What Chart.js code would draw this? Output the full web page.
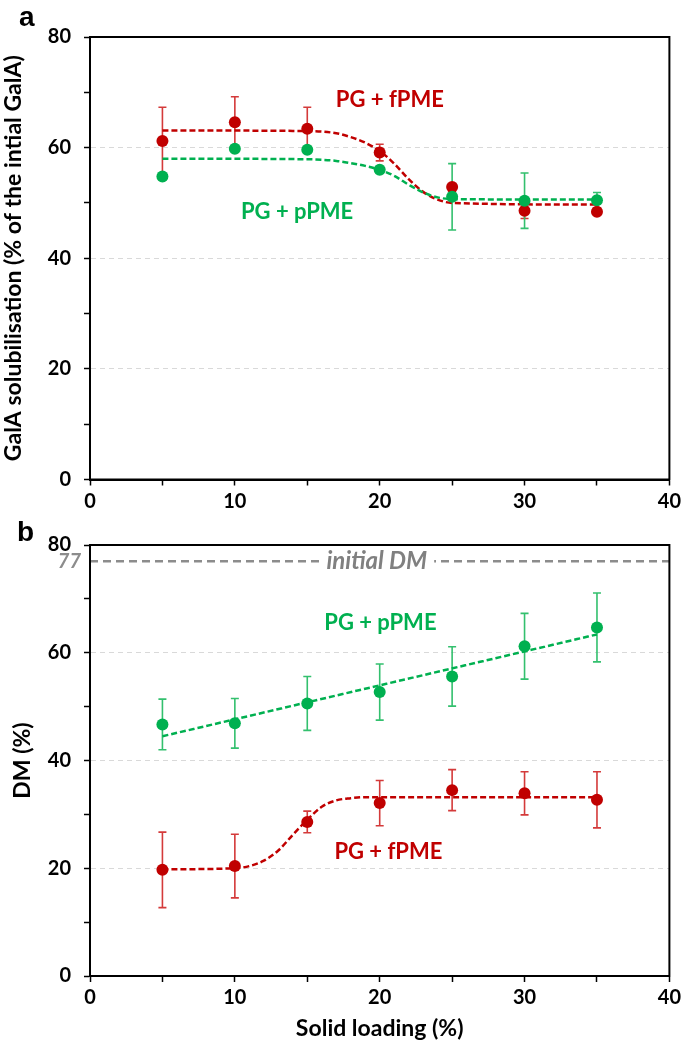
<!DOCTYPE html>
<html>
<head>
<meta charset="utf-8">
<script src="https://cdn.jsdelivr.net/npm/chart.js@4.4.1/dist/chart.umd.min.js"></script>
<style>
  html, body { margin: 0; padding: 0; background: #fff; }
  #wrap { position: relative; width: 685px; height: 1048px; }
  canvas { position: absolute; left: 0; }
  #chartA { top: 0; }
  #chartB { top: 520px; }
  .panel { position: absolute; font: bold 28px "Liberation Sans", Arial, sans-serif; line-height: 28px; color: #000; }
</style>
</head>
<body>
<div id="wrap">
  <canvas id="chartA" width="685" height="520"></canvas>
  <canvas id="chartB" width="685" height="528"></canvas>
  <div class="panel" style="left:19px;top:3px">a</div>
  <div class="panel" style="left:17px;top:518px">b</div>
</div>
<script>
// Solid loading (%) for all measured points
const loading = [5, 10, 15, 20, 25, 30, 35];

// Panel a: GalA solubilisation (% of initial GalA)
const galaF = [61.2, 64.6, 63.4, 59.1, 52.9, 48.6, 48.4];
const galaFErr = [6.1, 4.6, 3.9, 1.5, 0, 1.4, 0];
const galaP = [54.8, 59.8, 59.6, 56.0, 51.1, 50.4, 50.5];
const galaPErr = [0, 0, 0, 0, 6.0, 5.0, 1.4];

// Panel a: fitted curves
const fitAX = [5, 15, 17, 18, 19, 20, 21, 22, 23, 24, 25, 35];
const fitAF = [63.1, 63.0, 62.6, 61.9, 60.9, 59.4, 57.1, 54.3, 52.0, 50.6, 50.0, 49.7];
const fitAP = [58.0, 57.9, 57.6, 57.2, 56.7, 56.0, 54.9, 53.3, 51.9, 51.0, 50.7, 50.6];

// Panel b: DM (%)
const dmP = [46.7, 46.9, 50.6, 52.7, 55.6, 61.2, 64.7];
const dmPErr = [4.7, 4.6, 5.0, 5.2, 5.5, 6.1, 6.4];
const dmF = [19.7, 20.4, 28.6, 32.1, 34.5, 33.9, 32.7];
const dmFErr = [7.0, 5.9, 2.0, 4.2, 3.8, 4.0, 5.2];

// Panel b: fitted curves
const fitBPX = [5, 35];
const fitBP = [44.5, 63.4];
const fitBFX = [5, 10, 11, 12, 13, 14, 15, 16, 17, 18, 19, 20, 35];
const fitBF = [19.8, 20.0, 20.4, 21.4, 23.3, 26.2, 29.0, 31.4, 32.6, 33.0, 33.2, 33.2, 33.2];

const initialDM = 77;
const xRange = [0, 40];

const RED = '#C00000';
const RED_ERR = '#D43A3A';
const GREEN = '#00B050';
const GREEN_ERR = '#33C06E';
const GRAY = '#8C8C8C';
const FONT = 'Lato, "Open Sans", sans-serif';

function pts(xs, ys) {
  return xs.map((x, i) => ({ x: x, y: ys[i] }));
}

// error bars, box frame and free text labels
function makeExtras(cfg) {
  return {
    id: 'extras',
    beforeDatasetsDraw(chart) {
      const { ctx, scales: { x, y } } = chart;
      cfg.errors.forEach(e => {
        ctx.save();
        ctx.strokeStyle = e.color;
        ctx.lineWidth = 1.6;
        e.values.forEach((v, i) => {
          const err = e.errs[i];
          if (!err) return;
          const px = x.getPixelForValue(loading[i]);
          const top = y.getPixelForValue(v + err);
          const bot = y.getPixelForValue(v - err);
          ctx.beginPath();
          ctx.moveTo(px, top); ctx.lineTo(px, bot);
          ctx.moveTo(px - 4, top); ctx.lineTo(px + 4, top);
          ctx.moveTo(px - 4, bot); ctx.lineTo(px + 4, bot);
          ctx.stroke();
        });
        ctx.restore();
      });
    },
    afterDraw(chart) {
      const { ctx, chartArea: a, scales: { x, y } } = chart;
      ctx.save();
      ctx.strokeStyle = '#000';
      ctx.lineWidth = 2;
      ctx.strokeRect(a.left, a.top, a.right - a.left, a.bottom - a.top);
      (cfg.labels || []).forEach(l => {
        ctx.font = l.font;
        ctx.textAlign = 'center';
        ctx.textBaseline = 'middle';
        const px = x.getPixelForValue(l.x);
        const py = y.getPixelForValue(l.y);
        if (l.bg) {
          const w = ctx.measureText(l.text).width;
          ctx.fillStyle = '#fff';
          ctx.fillRect(px - w / 2 - 7, py - 6, w + 14, 12);
        }
        ctx.fillStyle = l.color;
        ctx.fillText(l.text, px, py);
      });
      if (cfg.yMark) {
        ctx.font = 'italic bold 20px ' + FONT;
        ctx.fillStyle = GRAY;
        ctx.textAlign = 'right';
        ctx.textBaseline = 'middle';
        ctx.fillText(String(cfg.yMark), a.left - 9, y.getPixelForValue(cfg.yMark));
      }
      ctx.restore();
    }
  };
}

function scalesFor(opts) {
  return {
    x: {
      type: 'linear', min: xRange[0], max: xRange[1],
      afterFit: s => { s.height = opts.xHeight; },
      ticks: {
        stepSize: 5, autoSkip: false, maxRotation: 0, padding: 4, color: '#000',
        font: { family: FONT, size: 20, weight: 'bold' },
        callback: v => (v % 10 === 0 ? v : '')
      },
      grid: { drawOnChartArea: false, tickLength: 6, tickColor: '#000', tickWidth: 1.5 },
      border: { color: '#000', width: 2 },
      title: {
        display: !!opts.xTitle, text: opts.xTitle || '', color: '#000',
        padding: { top: 0, bottom: 6 },
        font: { family: FONT, size: 23, weight: 'bold' }
      }
    },
    y: {
      type: 'linear', min: 0, max: 80,
      afterFit: s => { s.width = 90; },
      ticks: {
        stepSize: 10, padding: 13, color: '#000',
        font: { family: FONT, size: 20, weight: 'bold' },
        callback: v => (v % 20 === 0 ? v : '')
      },
      grid: {
        color: c => ([20, 40, 60].includes(c.tick && c.tick.value) ? '#D9D9D9' : 'rgba(0,0,0,0)'),
        lineWidth: 1, tickLength: 6, tickColor: '#000', tickWidth: 1.5
      },
      border: { color: '#000', width: 2, dash: [5, 4] },
      title: {
        display: true, text: opts.yTitle, color: '#000',
        padding: { top: opts.yTitlePad },
        font: { family: FONT, size: 23, weight: 'bold' }
      }
    }
  };
}

const pointStyle = (color) => ({
  backgroundColor: color, borderColor: color, pointRadius: 6, pointHoverRadius: 6,
  borderWidth: 0, showLine: false
});
const fitStyle = (color) => ({
  type: 'line', borderColor: color, backgroundColor: color, borderWidth: 2.5,
  borderDash: [6, 3], pointRadius: 0, fill: false, cubicInterpolationMode: 'monotone'
});

const common = {
  responsive: false,
  animation: false,
  plugins: { legend: { display: false }, tooltip: { enabled: false } }
};

// Panel a
new Chart(document.getElementById('chartA'), {
  type: 'scatter',
  data: {
    datasets: [
      { label: 'PG + pPME', data: pts(loading, galaP), ...pointStyle(GREEN) },
      { label: 'PG + fPME', data: pts(loading, galaF), ...pointStyle(RED) },
      { label: 'fit pPME', data: pts(fitAX, fitAP), ...fitStyle(GREEN) },
      { label: 'fit fPME', data: pts(fitAX, fitAF), ...fitStyle(RED) }
    ]
  },
  options: {
    ...common,
    layout: { padding: { left: 0, top: 37, right: 13, bottom: 0 } },
    scales: scalesFor({ xHeight: 40.5, yTitle: 'GalA solubilisation (% of the intial GalA)', yTitlePad: 0 })
  },
  plugins: [makeExtras({
    errors: [
      { values: galaF, errs: galaFErr, color: RED_ERR },
      { values: galaP, errs: galaPErr, color: GREEN_ERR }
    ],
    labels: [
      { text: 'PG + fPME', x: 20.7, y: 68.6, color: RED, font: 'bold 22px ' + FONT },
      { text: 'PG + pPME', x: 14.3, y: 48.4, color: GREEN, font: 'bold 22px ' + FONT }
    ]
  })]
});

// Panel b
new Chart(document.getElementById('chartB'), {
  type: 'scatter',
  data: {
    datasets: [
      { label: 'PG + pPME', data: pts(loading, dmP), ...pointStyle(GREEN) },
      { label: 'PG + fPME', data: pts(loading, dmF), ...pointStyle(RED) },
      { label: 'fit pPME', data: pts(fitBPX, fitBP), ...fitStyle(GREEN) },
      { label: 'fit fPME', data: pts(fitBFX, fitBF), ...fitStyle(RED) },
      {
        label: 'initial DM', data: pts(xRange, [initialDM, initialDM]), type: 'line',
        borderColor: GRAY, borderWidth: 2.5, borderDash: [8, 5], pointRadius: 0, fill: false
      }
    ]
  },
  options: {
    ...common,
    layout: { padding: { left: 0, top: 14.7, right: 13, bottom: 0 } },
    scales: scalesFor({ xHeight: 72, xTitle: 'Solid loading (%)', yTitle: 'DM (%)', yTitlePad: 9 })
  },
  plugins: [makeExtras({
    errors: [
      { values: dmF, errs: dmFErr, color: RED_ERR },
      { values: dmP, errs: dmPErr, color: GREEN_ERR }
    ],
    labels: [
      { text: 'initial DM', x: 19.8, y: initialDM, color: '#808080', font: 'italic bold 24px ' + FONT, bg: true },
      { text: 'PG + pPME', x: 20.05, y: 65.6, color: GREEN, font: 'bold 22px ' + FONT },
      { text: 'PG + fPME', x: 20.6, y: 23.0, color: RED, font: 'bold 22px ' + FONT }
    ],
    yMark: initialDM
  })]
});
</script>
</body>
</html>
